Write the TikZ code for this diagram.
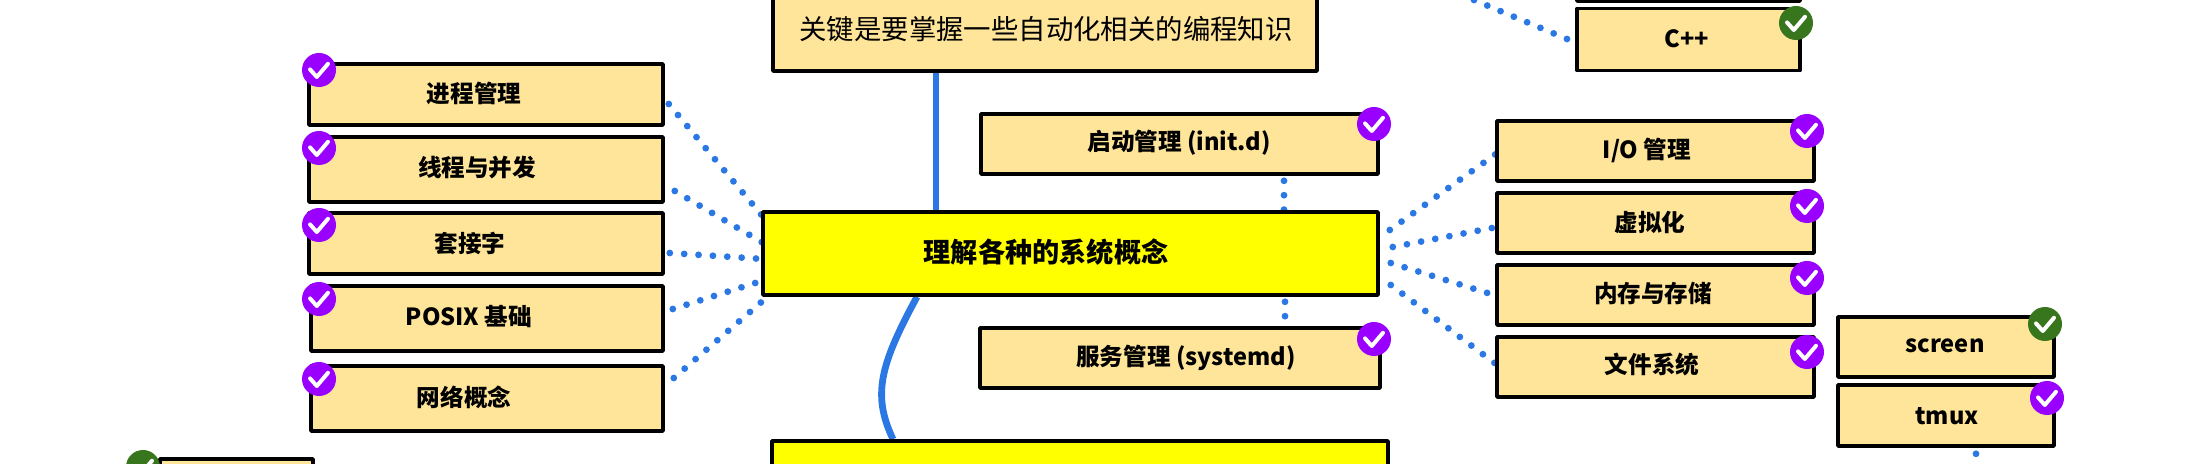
\documentclass[tikz,border=0pt]{standalone}
\usepackage{fontspec}
\setmainfont{Noto Sans CJK SC}
\usetikzlibrary{backgrounds}
\definecolor{boxfill}{HTML}{FFE599}
\definecolor{mainfill}{HTML}{FFFF00}
\definecolor{linkblue}{HTML}{2B78E4}
\definecolor{donepurple}{HTML}{9900FF}
\definecolor{donegreen}{HTML}{38761D}
\tikzset{
	topic/.style={draw=black,line width=1.8pt,fill=boxfill,inner sep=0pt},
	mainbox/.style={topic,fill=mainfill},
	tag/.style={font=\bfseries\fontsize{11.8}{13}\selectfont},
	maintag/.style={font=\bfseries\fontsize{13.6}{15}\selectfont},
	notetag/.style={font=\fontsize{13.7}{15}\selectfont},
	badge/.style={circle,fill=#1,inner sep=0pt,minimum size=17pt,
		path picture={\draw[white,line width=2pt,line cap=round,line join=round]
			([shift={(-4.5pt,.3pt)}]path picture bounding box.center) -- ++(3.4pt,-3.8pt) -- ++(5.6pt,6.6pt);}},
	solidlink/.style={linkblue,line width=3.4pt},
	dotlink/.style={linkblue,line width=3.4pt,line cap=round,dash pattern=on 0pt off 7.2pt},
}
\begin{document}
\begin{tikzpicture}[x=.5pt,y=-.5pt,line join=round]
	\useasboundingbox (0,0) rectangle (2192,464);
	\clip (0,0) rectangle (2192,464);
	% left column
	\node[topic,minimum width=177pt,minimum height=30.5pt] (proc) at (486,94.5) {};
	\node[topic,minimum width=177pt,minimum height=32.5pt] (thread) at (486,169.5) {};
	\node[topic,minimum width=177pt,minimum height=30.5pt] (socket) at (486,243.5) {};
	\node[topic,minimum width=176pt,minimum height=32.5pt] (posix) at (487,318.5) {};
	\node[topic,minimum width=176pt,minimum height=32.5pt] (netcon) at (487,398.5) {};
	\node[tag] (proctext) at (474,93) {进程管理};
	\node[tag] (threadtext) at (477,168) {线程与并发};
	\node[tag] (sockettext) at (470,243) {套接字};
	\node[tag] (posixtext) at (469,317) {POSIX 基础};
	\node[tag] (netcontext) at (464,397) {网络概念};
	\foreach \n/\y in {bproc/70,bthread/148,bsocket/225,bposix/299,bnetcon/379}
		\node[badge=donepurple] (\n) at (319,\y) {};
	% centre column
	\node[topic,minimum width=272pt,minimum height=41pt] (note) at (1045,30) {};
	\node[notetag] (notetext) at (1046,29) {关键是要掌握一些自动化相关的编程知识};
	\node[topic,minimum width=198.5pt,minimum height=30pt] (init) at (1179.5,144) {};
	\node[topic,minimum width=200pt,minimum height=30pt] (systemd) at (1180,358) {};
	\node[mainbox,minimum width=307.5pt,minimum height=41.5pt] (sysconcept) at (1070.5,253.5) {};
	\node[mainbox,minimum width=308pt,minimum height=30pt] (nextstep) at (1080,471) {};
	\node[maintag] (sysconcepttext) at (1046,252) {理解各种的系统概念};
	\node[tag] (inittext) at (1179,143) {启动管理 (init.d)};
	\node[tag] (systemdtext) at (1186,358) {服务管理 (systemd)};
	\node[badge=donepurple] (binit) at (1374,124) {};
	\node[badge=donepurple] (bsystemd) at (1374,339) {};
	% right column
	\node[topic,minimum width=111.5pt,minimum height=31pt] (above) at (1688.5,-30) {};
	\node[topic,minimum width=111.5pt,minimum height=31pt] (cpp) at (1688.5,39.5) {};
	\node[topic,minimum width=158.5pt,minimum height=30pt] (io) at (1655.5,151) {};
	\node[topic,minimum width=158.5pt,minimum height=30pt] (virt) at (1655.5,223) {};
	\node[topic,minimum width=158.5pt,minimum height=30pt] (mem) at (1655.5,295) {};
	\node[topic,minimum width=158.5pt,minimum height=30pt] (fs) at (1655.5,367) {};
	\node[topic,minimum width=108pt,minimum height=30pt] (screen) at (1946,347) {};
	\node[topic,minimum width=108pt,minimum height=30.5pt] (tmux) at (1946,415.5) {};
	\node[tag] (cpptext) at (1687,39) {C++};
	\node[tag] (iotext) at (1647,150) {I/O 管理};
	\node[tag] (virttext) at (1650,222) {虚拟化};
	\node[tag] (memtext) at (1653,293) {内存与存储};
	\node[tag] (fstext) at (1652,365) {文件系统};
	\node[tag] (screentext) at (1945,346) {screen};
	\node[tag] (tmuxtext) at (1947,416) {tmux};
	\node[badge=donegreen] (bcpp) at (1796,23) {};
	\foreach \n/\y in {bio/131,bvirt/206,bmem/278,bfs/352}
		\node[badge=donepurple] (\n) at (1807,\y) {};
	\node[badge=donegreen] (bscreen) at (2045,324) {};
	\node[badge=donepurple] (btmux) at (2047,398) {};
	% bottom left
	\node[topic,minimum width=76.5pt,minimum height=30pt] (lowbox) at (236.5,489) {};
	\node[badge=donegreen] (blow) at (143,467) {};
	% free ends of the cut off links
	\coordinate (topdot) at (1474,0);
	\coordinate (lowdot) at (1976,470);
	% links
	\begin{pgfonlayer}{background}
		\draw[solidlink] ([xshift=-54.5pt]note.south) -- ([xshift=-67.25pt]sysconcept.north);
		\draw[solidlink] ([xshift=-76.75pt]sysconcept.south) .. controls (880,365) and (872,395) .. ([xshift=-93.5pt]nextstep.north);
		\draw[dotlink] ([shift={(2pt,-4.75pt)}]proc.east) -- ([shift={(1pt,18.25pt)}]sysconcept.west);
		\draw[dotlink] ([shift={(5pt,-10.75pt)}]thread.east) -- ([shift={(1pt,5.25pt)}]sysconcept.west);
		\draw[dotlink] ([shift={(2.5pt,-4.75pt)}]socket.east) -- ([shift={(1pt,-2.75pt)}]sysconcept.west);
		\draw[dotlink] ([shift={(4pt,4.75pt)}]posix.east) -- ([shift={(1pt,-13.5pt)}]sysconcept.west);
		\draw[dotlink] ([shift={(4.5pt,10.25pt)}]netcon.east) -- ([shift={(1pt,-23.5pt)}]sysconcept.west);
		\draw[dotlink] ([shift={(5pt,11.75pt)}]sysconcept.east) -- ([shift={(1pt,-1pt)}]io.west);
		\draw[dotlink] ([shift={(6.5pt,3.25pt)}]sysconcept.east) -- ([shift={(1pt,-2pt)}]virt.west);
		\draw[dotlink] ([shift={(5.5pt,-4.75pt)}]sysconcept.east) -- ([shift={(1pt,-.5pt)}]mem.west);
		\draw[dotlink] ([shift={(5.5pt,-15.75pt)}]sysconcept.east) -- ([shift={(1pt,1pt)}]fs.west);
		\draw[dotlink] ([shift={(52.25pt,-2.5pt)}]init.south) -- ([xshift=106.75pt]sysconcept.north);
		\draw[dotlink] ([shift={(107.25pt,-2.5pt)}]sysconcept.south) -- ([xshift=52.5pt]systemd.north);
		\draw[dotlink] (topdot) -- ([xshift=-3.5pt]cpp.west);
		\draw[dotlink] ([shift={(15pt,-3pt)}]tmux.south) -- (lowdot);
	\end{pgfonlayer}
\end{tikzpicture}
\end{document}
